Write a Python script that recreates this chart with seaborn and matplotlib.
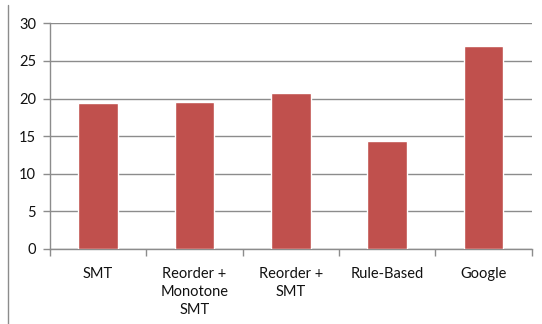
import matplotlib
matplotlib.use("Agg")
import matplotlib.pyplot as plt
import seaborn as sns
import pandas as pd
from matplotlib.lines import Line2D

categories = ["SMT", "Reorder +\nMonotone\nSMT", "Reorder +\nSMT", "Rule-Based", "Google"]
values = [19.4, 19.5, 20.7, 14.4, 27.0]
yticks = [0, 5, 10, 15, 20, 25, 30]

sns.set_theme(style="white")
plt.rcParams['font.family'] = ['Lato', 'DejaVu Sans']

W, H = 542, 324
fig = plt.figure(figsize=(W / 100, H / 100), dpi=100)
ax = fig.add_axes([50 / W, 1 - 249 / H, (531.7 - 50) / W, (249 - 23.3) / H])

df = pd.DataFrame({"cat": categories, "val": values})
sns.barplot(data=df, x="cat", y="val", color="#C0504D", saturation=1, width=0.41, ax=ax, zorder=3)

ax.set_ylim(0, 30)
ax.set_yticks(yticks)
ax.set_xlim(-0.5, len(categories) - 0.5)
ax.set_xlabel("")
ax.set_ylabel("")
ax.grid(axis="y", color="#8C8C8C", linewidth=1, zorder=0)
ax.grid(axis="x", visible=False)
for s in ["top", "right"]:
    ax.spines[s].set_visible(False)
for s in ["left", "bottom"]:
    ax.spines[s].set_color("#8C8C8C")
    ax.spines[s].set_linewidth(1)
ax.set_xticks([i - 0.5 for i in range(len(categories) + 1)], minor=True)
ax.tick_params(axis="x", which="major", length=0, pad=13, labelsize=10.5, labelcolor="#111111")
ax.tick_params(axis="x", which="minor", length=5, color="#8C8C8C", width=1, bottom=True, direction="out")
ax.tick_params(axis="y", length=5, color="#8C8C8C", width=1, left=True, direction="out", labelsize=10.5,
               labelcolor="#111111", pad=5)
for lbl in ax.get_xticklabels():
    lbl.set_linespacing(1.35)
    lbl.set_verticalalignment("top")

fig.add_artist(Line2D([7.5 / W, 7.5 / W], [0, 1 - 5 / H], transform=fig.transFigure,
                      color="#8C8C8C", linewidth=1))

fig.savefig("out.png", dpi=100)
